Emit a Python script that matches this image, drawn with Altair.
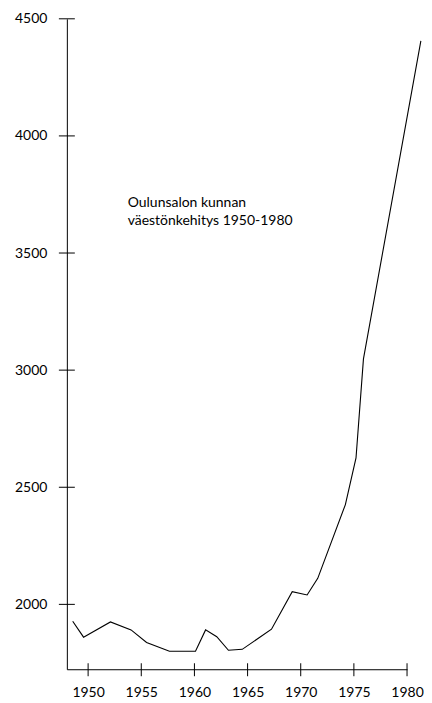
import altair as alt
import pandas as pd

years = [1948.55, 1949.57, 1952.1, 1954.04, 1955.5, 1957.65, 1960.1, 1961.05, 1962.1,
         1963.2, 1964.5, 1967.25, 1969.2, 1970.6, 1971.6, 1974.2, 1975.2, 1975.9, 1981.3]
population = [1928, 1860, 1925, 1891, 1837, 1800, 1800, 1891, 1862,
              1804, 1808, 1894, 2054, 2040, 2111, 2426, 2625, 3048, 4406]
x_ticks = [1950, 1955, 1960, 1965, 1970, 1975, 1980]
y_ticks = [2000, 2500, 3000, 3500, 4000, 4500]
x_min, x_max = 1948, 1980
y_min, y_max = 1723, 4500
note = ["Oulunsalon kunnan", "väestönkehitys 1950-1980"]

df = pd.DataFrame({"year": years, "pop": population})
xt = pd.DataFrame({"year": x_ticks})
yt = pd.DataFrame({"pop": y_ticks})

FONT = "Lato"

xscale = alt.Scale(domain=[x_min, x_max], nice=False, zero=False)
yscale = alt.Scale(domain=[y_min, y_max], nice=False, zero=False)
xaxis = alt.Axis(values=x_ticks, format="d", title=None, grid=False,
                 ticks=False, labelPadding=16, domainColor="#000", labelFlush=False,
                 labelFont=FONT, labelFontSize=14, labelColor="#000")
yaxis = alt.Axis(values=y_ticks, format="d", title=None, grid=False,
                 ticks=False, labelPadding=20, domainColor="#000", labelFlush=False,
                 labelFont=FONT, labelFontSize=14, labelColor="#000")

line = alt.Chart(df).mark_line(color="#000", strokeWidth=1.1, clip=False).encode(
    x=alt.X("year:Q", scale=xscale, axis=xaxis),
    y=alt.Y("pop:Q", scale=yscale, axis=yaxis),
)

ytick_layer = alt.Chart(yt).mark_rule(color="#000", strokeWidth=1, xOffset=-8, x2Offset=8).encode(
    x=alt.datum(x_min, type="quantitative", scale=xscale, axis=xaxis),
    x2=alt.datum(x_min),
    y=alt.Y("pop:Q", scale=yscale, axis=yaxis),
)

xtick_layer = alt.Chart(xt).mark_rule(color="#000", strokeWidth=1, yOffset=-6, y2Offset=7).encode(
    x=alt.X("year:Q", scale=xscale, axis=xaxis),
    y=alt.datum(y_min, type="quantitative", scale=yscale, axis=yaxis),
    y2=alt.datum(y_min),
)

text = alt.Chart(pd.DataFrame({"t": [note]})).mark_text(
    align="left", baseline="alphabetic", font=FONT, fontSize=14, color="#000", lineHeight=18
).encode(
    x=alt.value(61), y=alt.value(189), text="t"
)

chart = alt.layer(line, ytick_layer, xtick_layer, text).properties(
    width=341, height=652,
    padding={"left": 6, "top": 3, "right": 0, "bottom": 0},
    background="white",
).configure_view(stroke=None)

chart.save("out.html", embed_options={"renderer": "svg", "actions": False})
